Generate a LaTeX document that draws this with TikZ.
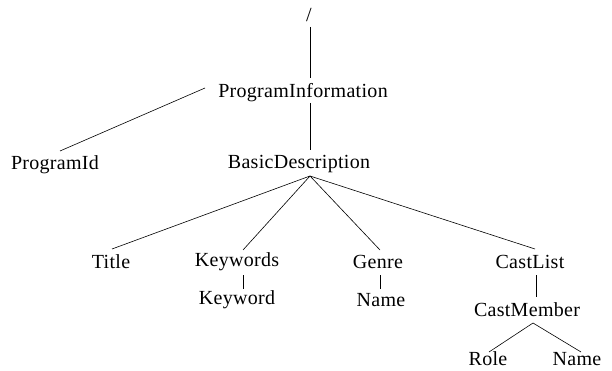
\documentclass[tikz,border=0pt]{standalone}
\usepackage{fontspec}
\setmainfont{Liberation Serif}[LetterSpace=1.5]
\begin{document}
\begin{tikzpicture}[x=1pt,y=-1pt,
  lbl/.style={inner sep=0pt,font=\fontsize{20}{24}\selectfont},
  edge/.style={line width=0.6pt,black}]
\useasboundingbox (0,0) rectangle (612,371);
% labels
\node[lbl] (root) at (309,15) {/};
\node[lbl] (pi) at (303,93) {ProgramInformation};
\node[lbl] (pid) at (55,165) {ProgramId};
\node[lbl] (bd) at (299,164) {BasicDescription};
\node[lbl] (title) at (111,262) {Title};
\node[lbl] (kws) at (237,262) {Keywords};
\node[lbl] (genre) at (378,262) {Genre};
\node[lbl] (cl) at (530,262) {CastList};
\node[lbl] (kw) at (237,300) {Keyword};
\node[lbl] (gname) at (381,300) {Name};
\node[lbl] (cm) at (527,310) {CastMember};
\node[lbl] (role) at (488,359) {Role};
\node[lbl] (cname) at (577,359) {Name};
% anchor points of the connectors
\coordinate (rootB) at (310,27);
\coordinate (piT) at (310,78);
\coordinate (piL) at (205,88);
\coordinate (pidT) at (60,151);
\coordinate (piB) at (310,103);
\coordinate (bdT) at (310,150);
\coordinate (bdB) at (310,176);
\coordinate (titleT) at (112,249);
\coordinate (kwsT) at (243,250);
\coordinate (genreT) at (380,250);
\coordinate (clT) at (535,249);
\coordinate (kwsB) at (243,275);
\coordinate (kwT) at (243,289);
\coordinate (genreB) at (380,275);
\coordinate (gnameT) at (380,289);
\coordinate (clB) at (536,275);
\coordinate (cmT) at (536,297);
\coordinate (cmB) at (533,323);
\coordinate (roleT) at (489,352);
\coordinate (cnameT) at (581,352);
% connectors
\draw[edge] (rootB) -- (piT);
\draw[edge] (piL) -- (pidT);
\draw[edge] (piB) -- (bdT);
\draw[edge] (bdB) -- (titleT);
\draw[edge] (bdB) -- (kwsT);
\draw[edge] (bdB) -- (genreT);
\draw[edge] (bdB) -- (clT);
\draw[edge] (kwsB) -- (kwT);
\draw[edge] (genreB) -- (gnameT);
\draw[edge] (clB) -- (cmT);
\draw[edge] (cmB) -- (roleT);
\draw[edge] (cmB) -- (cnameT);
\end{tikzpicture}
\end{document}
